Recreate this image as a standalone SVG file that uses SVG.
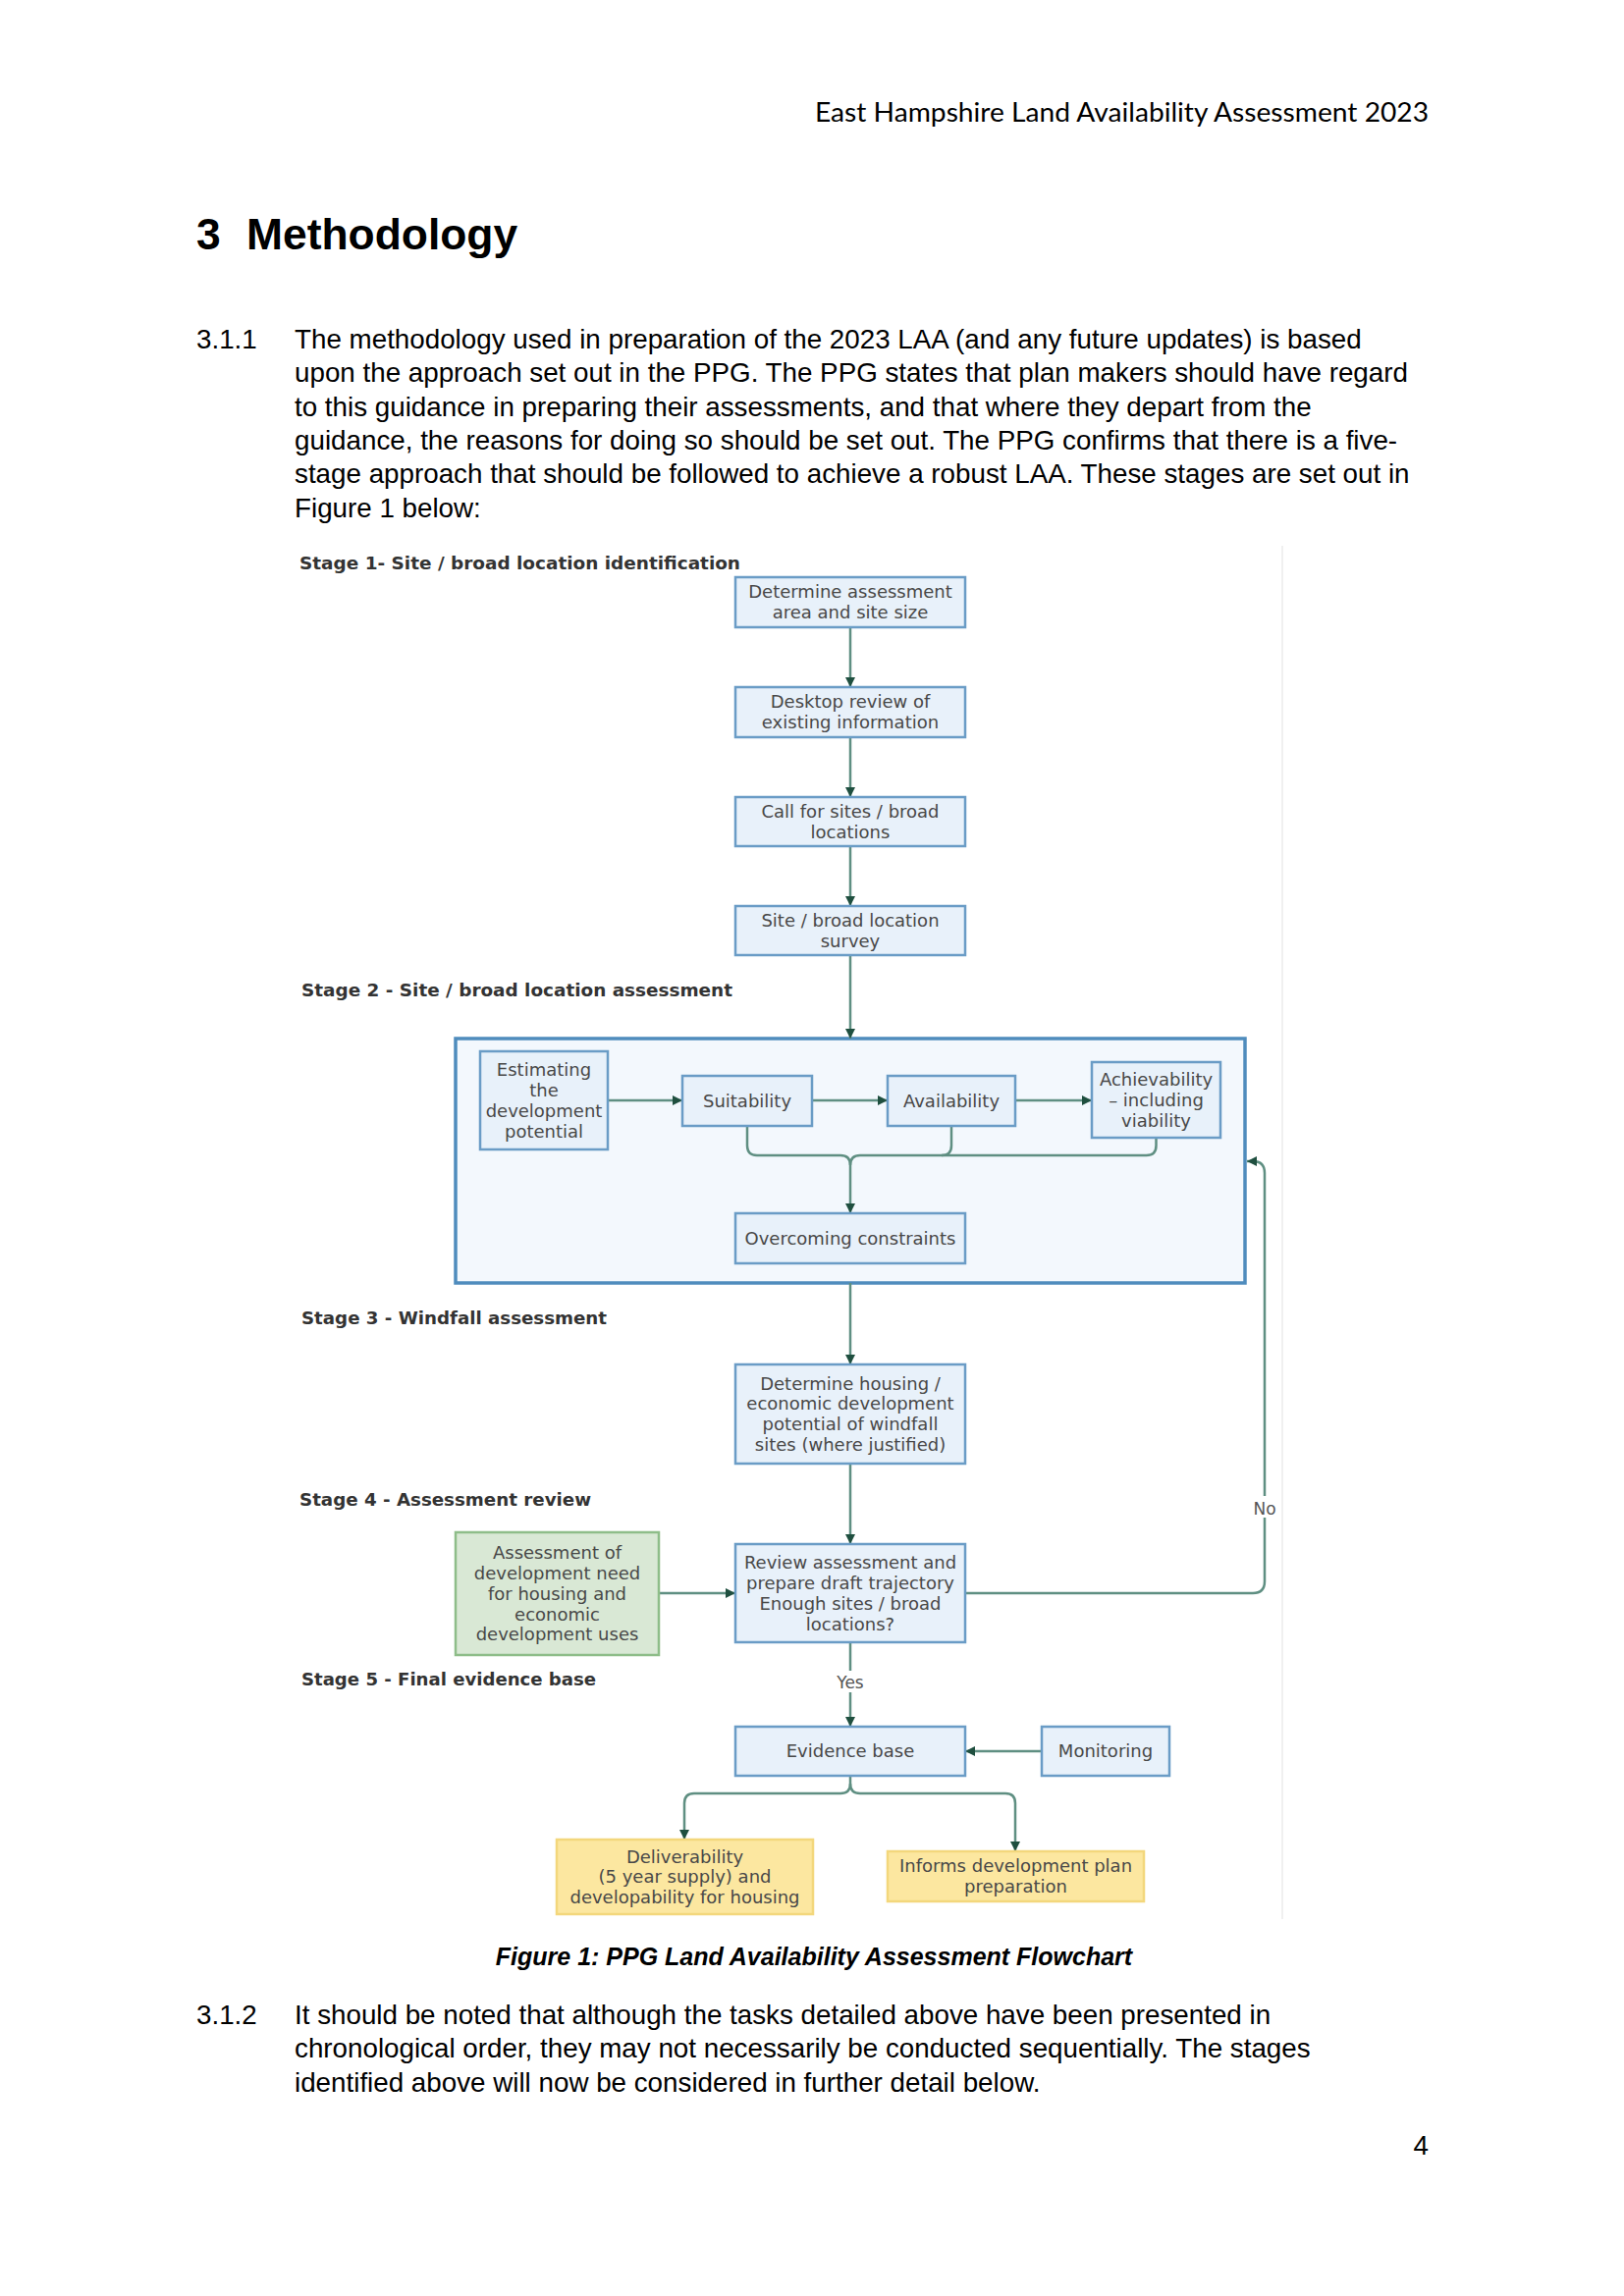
<svg xmlns="http://www.w3.org/2000/svg" width="1654" height="2339" viewBox="0 0 1654 2339">
<defs>
<style>
.body{font-family:"Liberation Sans",Arial,sans-serif;font-size:27.78px;fill:#000}
.hdr{font-family:Lato,"Liberation Sans",sans-serif;font-size:27px;fill:#000}
.title{font-family:"Liberation Sans",Arial,sans-serif;font-size:44.4px;font-weight:bold;fill:#000}
.cap{font-family:"Liberation Sans",Arial,sans-serif;font-size:25px;font-weight:bold;font-style:italic;fill:#000}
.stage{font-family:"DejaVu Sans",Verdana,sans-serif;font-size:18.4px;font-weight:bold;fill:#333}
.nt{font-family:"DejaVu Sans",Verdana,sans-serif;font-size:18px;fill:#484848;text-anchor:middle}
.lbl{font-family:"DejaVu Sans",Verdana,sans-serif;font-size:17px;fill:#555;text-anchor:middle}
.bn{fill:#e8f1fa;stroke:#6a9cc6;stroke-width:2.5}
.gn{fill:#d9e8d5;stroke:#8ebd89;stroke-width:2.5}
.yn{fill:#fce7a0;stroke:#f3d77c;stroke-width:2.5}
.box{fill:#f3f8fd;stroke:#4f8cbd;stroke-width:3.5}
.cn{fill:none;stroke:#5f8f82;stroke-width:2.5}
</style>
<marker id="ah" viewBox="0 0 10 10" refX="10" refY="5" markerWidth="11" markerHeight="10" markerUnits="userSpaceOnUse" orient="auto">
<path d="M0,0 L10,5 L0,10 z" fill="#1f4f3f"/>
</marker>
</defs>
<rect width="1654" height="2339" fill="#fff"/>

<g id="page-text">
<text class="hdr" x="830" y="124" textLength="625" lengthAdjust="spacingAndGlyphs">East Hampshire Land Availability Assessment 2023</text>
<text class="title" x="200" y="254">3</text>
<text class="title" x="251" y="254">Methodology</text>
<text class="body" x="200" y="355">3.1.1</text>
<text class="body" x="300" y="355">The methodology used in preparation of the 2023 LAA (and any future updates) is based</text>
<text class="body" x="300" y="389.3">upon the approach set out in the PPG. The PPG states that plan makers should have regard</text>
<text class="body" x="300" y="423.6">to this guidance in preparing their assessments, and that where they depart from the</text>
<text class="body" x="300" y="457.9">guidance, the reasons for doing so should be set out. The PPG confirms that there is a five-</text>
<text class="body" x="300" y="492.2">stage approach that should be followed to achieve a robust LAA. These stages are set out in</text>
<text class="body" x="300" y="526.5">Figure 1 below:</text>
<text class="cap" x="829" y="2002" text-anchor="middle">Figure 1: PPG Land Availability Assessment Flowchart</text>
<text class="body" x="200" y="2062">3.1.2</text>
<text class="body" x="300" y="2062">It should be noted that although the tasks detailed above have been presented in</text>
<text class="body" x="300" y="2096.3">chronological order, they may not necessarily be conducted sequentially. The stages</text>
<text class="body" x="300" y="2130.6">identified above will now be considered in further detail below.</text>
<text class="body" x="1455" y="2195" text-anchor="end">4</text>
</g>

<line x1="1306" y1="556" x2="1306" y2="1955" stroke="#ebebeb" stroke-width="1.5"/>

<g id="stage-labels">
<text class="stage" x="305" y="580" textLength="449" lengthAdjust="spacingAndGlyphs">Stage 1- Site / broad location identification</text>
<text class="stage" x="307" y="1015" textLength="439" lengthAdjust="spacingAndGlyphs">Stage 2 - Site / broad location assessment</text>
<text class="stage" x="307" y="1349" textLength="311" lengthAdjust="spacingAndGlyphs">Stage 3 - Windfall assessment</text>
<text class="stage" x="305" y="1534" textLength="297" lengthAdjust="spacingAndGlyphs">Stage 4 - Assessment review</text>
<text class="stage" x="307" y="1717" textLength="300" lengthAdjust="spacingAndGlyphs">Stage 5 - Final evidence base</text>
</g>

<g id="stage2-container">
<rect class="box" x="464" y="1058" width="804" height="249"/>
</g>

<g id="connectors">
<path class="cn" d="M866 639 V700" marker-end="url(#ah)"/>
<path class="cn" d="M866 751 V812" marker-end="url(#ah)"/>
<path class="cn" d="M866 862 V923" marker-end="url(#ah)"/>
<path class="cn" d="M866 973 V1058" marker-end="url(#ah)"/>
<path class="cn" d="M619 1121 H695" marker-end="url(#ah)"/>
<path class="cn" d="M827 1121 H904" marker-end="url(#ah)"/>
<path class="cn" d="M1034 1121 H1112" marker-end="url(#ah)"/>
<path class="cn" d="M761 1147 V1167 Q761 1177 771 1177 H856 Q866 1177 866 1187 V1236" marker-end="url(#ah)"/>
<path class="cn" d="M1177.5 1159 V1167 Q1177.5 1177 1167.5 1177 H876 Q866 1177 866 1187"/>
<path class="cn" d="M969 1147 V1167 Q969 1177 959 1177"/>
<path class="cn" d="M866 1307 V1390" marker-end="url(#ah)"/>
<path class="cn" d="M866 1491 V1573" marker-end="url(#ah)"/>
<path class="cn" d="M671 1623 H749" marker-end="url(#ah)"/>
<path class="cn" d="M983 1623 H1276 Q1288 1623 1288 1611 V1195 Q1288 1183 1276 1183 H1270" marker-end="url(#ah)"/>
<rect x="1274" y="1524" width="28" height="22" fill="#fff"/>
<text class="lbl" x="1288" y="1543">No</text>
<path class="cn" d="M866 1673 V1759" marker-end="url(#ah)"/>
<rect x="848" y="1702" width="36" height="22" fill="#fff"/>
<text class="lbl" x="866" y="1720">Yes</text>
<path class="cn" d="M1061 1784 H983" marker-end="url(#ah)"/>
<path class="cn" d="M866 1809 V1817 Q866 1827 856 1827 H707 Q697 1827 697 1837 V1874" marker-end="url(#ah)"/>
<path class="cn" d="M866 1817 Q866 1827 876 1827 H1024 Q1034 1827 1034 1837 V1886" marker-end="url(#ah)"/>
</g>

<g id="node-determine-area">
<rect class="bn" x="749" y="588" width="234" height="51"/>
<text class="nt" x="866" y="609.4">Determine assessment</text>
<text class="nt" x="866" y="630.2">area and site size</text>
</g>
<g id="node-desktop-review">
<rect class="bn" x="749" y="700" width="234" height="51"/>
<text class="nt" x="866" y="721.4">Desktop review of</text>
<text class="nt" x="866" y="742.2">existing information</text>
</g>
<g id="node-call-for-sites">
<rect class="bn" x="749" y="812" width="234" height="50"/>
<text class="nt" x="866" y="833">Call for sites / broad</text>
<text class="nt" x="866" y="853.8">locations</text>
</g>
<g id="node-site-survey">
<rect class="bn" x="749" y="923" width="234" height="50"/>
<text class="nt" x="866" y="943.9">Site / broad location</text>
<text class="nt" x="866" y="964.7">survey</text>
</g>
<g id="node-estimating">
<rect class="bn" x="489" y="1071" width="130" height="100"/>
<text class="nt" x="554" y="1096.1">Estimating</text>
<text class="nt" x="554" y="1116.9">the</text>
<text class="nt" x="554" y="1137.7">development</text>
<text class="nt" x="554" y="1158.5">potential</text>
</g>
<g id="node-suitability">
<rect class="bn" x="695" y="1096" width="132" height="51"/>
<text class="nt" x="761" y="1127.8">Suitability</text>
</g>
<g id="node-availability">
<rect class="bn" x="904" y="1096" width="130" height="51"/>
<text class="nt" x="969" y="1127.8">Availability</text>
</g>
<g id="node-achievability">
<rect class="bn" x="1112" y="1082" width="131" height="77"/>
<text class="nt" x="1177.5" y="1106">Achievability</text>
<text class="nt" x="1177.5" y="1126.8">– including</text>
<text class="nt" x="1177.5" y="1147.6">viability</text>
</g>
<g id="node-overcoming">
<rect class="bn" x="749" y="1236" width="234" height="51"/>
<text class="nt" x="866" y="1267.8">Overcoming constraints</text>
</g>
<g id="node-windfall">
<rect class="bn" x="749" y="1390" width="234" height="101"/>
<text class="nt" x="866" y="1415.6">Determine housing /</text>
<text class="nt" x="866" y="1436.4">economic development</text>
<text class="nt" x="866" y="1457.2">potential of windfall</text>
<text class="nt" x="866" y="1478">sites (where justified)</text>
</g>
<g id="node-need">
<rect class="gn" x="464" y="1561" width="207" height="125"/>
<text class="nt" x="567.5" y="1588.2">Assessment of</text>
<text class="nt" x="567.5" y="1609">development need</text>
<text class="nt" x="567.5" y="1629.8">for housing and</text>
<text class="nt" x="567.5" y="1650.6">economic</text>
<text class="nt" x="567.5" y="1671.4">development uses</text>
</g>
<g id="node-review">
<rect class="bn" x="749" y="1573" width="234" height="100"/>
<text class="nt" x="866" y="1598.1">Review assessment and</text>
<text class="nt" x="866" y="1618.9">prepare draft trajectory</text>
<text class="nt" x="866" y="1639.7">Enough sites / broad</text>
<text class="nt" x="866" y="1660.5">locations?</text>
</g>
<g id="node-evidence">
<rect class="bn" x="749" y="1759" width="234" height="50"/>
<text class="nt" x="866" y="1790.3">Evidence base</text>
</g>
<g id="node-monitoring">
<rect class="bn" x="1061" y="1759" width="130" height="50"/>
<text class="nt" x="1126" y="1790.3">Monitoring</text>
</g>
<g id="node-deliverability">
<rect class="yn" x="567" y="1874" width="261" height="76"/>
<text class="nt" x="697.5" y="1897.5">Deliverability</text>
<text class="nt" x="697.5" y="1918.3">(5 year supply) and</text>
<text class="nt" x="697.5" y="1939.1">developability for housing</text>
</g>
<g id="node-informs">
<rect class="yn" x="904" y="1886" width="261" height="51"/>
<text class="nt" x="1034.5" y="1907.4">Informs development plan</text>
<text class="nt" x="1034.5" y="1928.2">preparation</text>
</g>
</svg>
